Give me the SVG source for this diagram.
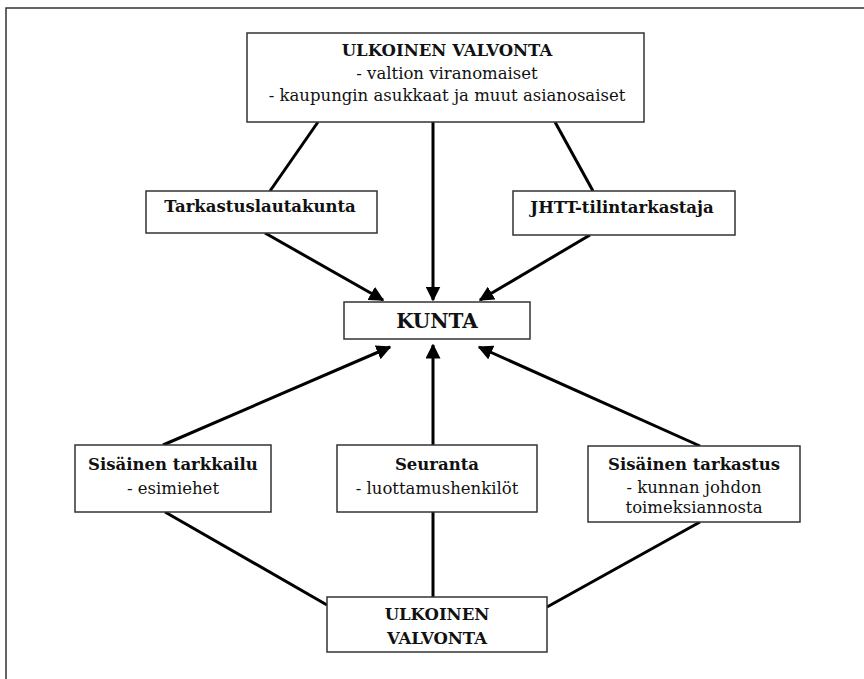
<svg xmlns="http://www.w3.org/2000/svg" width="864" height="679" viewBox="0 0 864 679">
<defs>
<style>
.box{fill:#fff;stroke:#333;stroke-width:1.5}
.t{font-family:"DejaVu Serif","Liberation Serif",serif;font-size:16.5px;fill:#111;text-anchor:middle}
.b{font-weight:bold}
.k{font-size:20px;font-weight:bold}
.c{stroke:#000;stroke-width:3;fill:none}
</style>
<marker id="ah" viewBox="0 0 10 10" refX="9" refY="5" markerWidth="5" markerHeight="5" orient="auto" markerUnits="strokeWidth">
<path d="M0,0 L10,5 L0,10 z" fill="#000"/>
</marker>
</defs>
<rect width="864" height="679" fill="#fff"/>
<path d="M6,679 V8 H864" fill="none" stroke="#333" stroke-width="1.5"/>
<g id="connectors">
<line class="c" x1="318" y1="122" x2="270" y2="191"/>
<line class="c" x1="555" y1="122" x2="593" y2="191"/>
<line class="c" x1="265" y1="233" x2="383" y2="300" marker-end="url(#ah)"/>
<line class="c" x1="433" y1="122" x2="433" y2="300" marker-end="url(#ah)"/>
<line class="c" x1="590" y1="235" x2="480" y2="300" marker-end="url(#ah)"/>
<line class="c" x1="163" y1="445" x2="390" y2="347" marker-end="url(#ah)"/>
<line class="c" x1="433" y1="445" x2="433" y2="345" marker-end="url(#ah)"/>
<line class="c" x1="700" y1="446" x2="479" y2="347" marker-end="url(#ah)"/>
<line class="c" x1="165" y1="512" x2="327" y2="605"/>
<line class="c" x1="433" y1="512" x2="433" y2="597"/>
<line class="c" x1="700" y1="522" x2="547" y2="607"/>
</g>
<g id="ulkoinen-top">
<rect class="box" x="247" y="33" width="397" height="89"/>
<text class="t b" x="447" y="56">ULKOINEN VALVONTA</text>
<text class="t" x="447" y="79">- valtion viranomaiset</text>
<text class="t" x="447" y="101">- kaupungin asukkaat ja muut asianosaiset</text>
</g>
<g id="tarkastuslautakunta">
<rect class="box" x="146" y="191" width="231" height="42"/>
<text class="t b" x="260" y="212">Tarkastuslautakunta</text>
</g>
<g id="jhtt">
<rect class="box" x="513" y="191" width="222" height="44"/>
<text class="t b" x="622" y="213">JHTT-tilintarkastaja</text>
</g>
<g id="kunta">
<rect class="box" x="344" y="302" width="186" height="37"/>
<text class="t k" x="437" y="328">KUNTA</text>
</g>
<g id="sisainen-tarkkailu">
<rect class="box" x="75" y="445" width="196" height="67"/>
<text class="t b" x="173" y="470">Sisäinen tarkkailu</text>
<text class="t" x="173" y="494">- esimiehet</text>
</g>
<g id="seuranta">
<rect class="box" x="337" y="445" width="200" height="67"/>
<text class="t b" x="437" y="470">Seuranta</text>
<text class="t" x="437" y="494">- luottamushenkilöt</text>
</g>
<g id="sisainen-tarkastus">
<rect class="box" x="588" y="446" width="212" height="76"/>
<text class="t b" x="694" y="470">Sisäinen tarkastus</text>
<text class="t" x="694" y="493">- kunnan johdon</text>
<text class="t" x="694" y="513">toimeksiannosta</text>
</g>
<g id="ulkoinen-bottom">
<rect class="box" x="327" y="597" width="220" height="55"/>
<text class="t b" x="437" y="620">ULKOINEN</text>
<text class="t b" x="437" y="644">VALVONTA</text>
</g>
</svg>
